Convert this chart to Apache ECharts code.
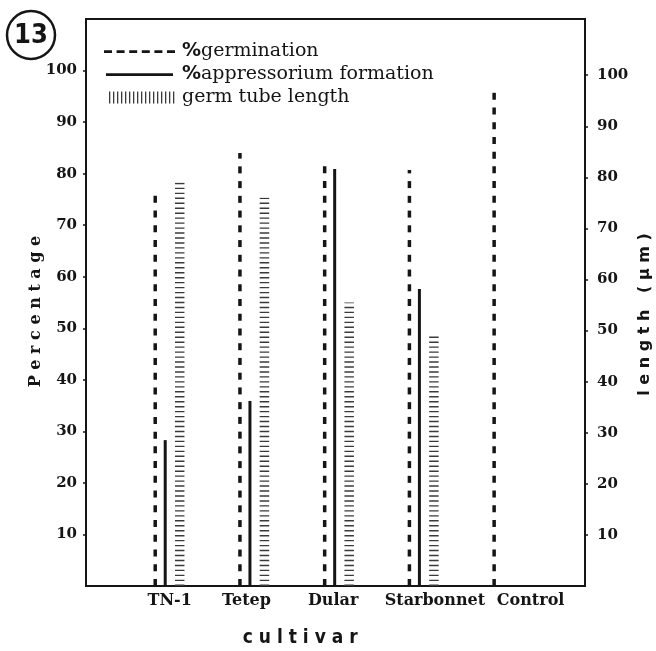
<!DOCTYPE html>
<html>
<head>
<meta charset="utf-8">
<script src="https://cdn.jsdelivr.net/npm/echarts@6/dist/echarts.min.js"></script>
<style>
html,body{margin:0;padding:0;background:#fff;}
#chart{width:656px;height:651px;}
</style>
</head>
<body>
<div id="chart"></div>
<script>
const categories = ['TN-1', 'Tetep', 'Dular', 'Starbonnet', 'Control'];
const germination = [76.6, 84.0, 82.8, 80.7, 95.8];
const appressorium = [28.3, 35.9, 80.9, 57.6, null];
const tubeLength = [79, 76, 55.5, 49, null];
const percentTicks = [10, 20, 30, 40, 50, 60, 70, 80, 90, 100];
const lengthTicks = [10, 20, 30, 40, 50, 60, 70, 80, 90, 100];
const seriesNames = ['%germination', '%appressorium formation', 'germ tube length'];

const INK = '#151515';
const tickFont = {color: INK, fontFamily: 'DejaVu Serif', fontWeight: 'bold', fontSize: 15};

// legend icon paths (73 x 14 box, tiny corner dots keep the box size)
const corners = 'M0,0h0.01v0.01h-0.01z M72.99,13.99h0.01v0.01h-0.01z ';
let dashPath = corners;
for (let i = 0; i < 6; i++) dashPath += 'M' + (i * 12.6) + ',5.8h8v2.6h-8z ';
const solidPath = corners + 'M2,5.8h67v2.6h-67z';
let hatchPath = corners;
for (let i = 0; i < 17; i++) hatchPath += 'M' + (5 + i * 4) + ',1h1.3v12h-1.3z ';

const labelShift = [0, -8, -6, 11, 22];
const xRich = {};
labelShift.forEach((s, i) => {
  xRich['c' + i] = {
    color: INK, fontFamily: 'DejaVu Serif', fontWeight: 'bold', fontSize: 16,
    padding: s >= 0 ? [0, 0, 0, 2 * s] : [0, -2 * s, 0, 0]
  };
});

const chart = echarts.init(document.getElementById('chart'), null, {renderer: 'canvas'});
chart.setOption({
  animation: false,
  backgroundColor: '#fff',
  graphic: [
    {type: 'circle', shape: {cx: 31, cy: 35, r: 24}, style: {fill: 'none', stroke: INK, lineWidth: 2.5}},
    {type: 'text', x: 31, y: 36, style: {text: '13', font: 'bold 27px "Liberation Sans Narrow", "DejaVu Sans Condensed", sans-serif', align: 'center', verticalAlign: 'middle', fill: INK}}
  ],
  legend: {
    orient: 'vertical', left: 104, top: 42, padding: 0, itemGap: 4,
    itemWidth: 73, itemHeight: 14, selectedMode: false,
    data: [
      {name: seriesNames[0], icon: 'path://' + dashPath},
      {name: seriesNames[1], icon: 'path://' + solidPath},
      {name: seriesNames[2], icon: 'path://' + hatchPath}
    ],
    formatter: function (name) {
      return name.charAt(0) === '%' ? '{p|%}{t|' + name.slice(1) + '}' : '{t|' + name + '}';
    },
    textStyle: {
      color: INK, fontFamily: 'DejaVu Serif', fontSize: 19,
      rich: {
        p: {color: INK, fontFamily: 'DejaVu Sans', fontWeight: 'bold', fontSize: 19},
        t: {color: INK, fontFamily: 'DejaVu Serif', fontSize: 19}
      }
    }
  },
  grid: [
    {left: 86, right: 71, top: 19, bottom: 65, outerBoundsMode: 'none', containLabel: false,
     show: true, borderColor: INK, borderWidth: 2, backgroundColor: 'transparent'},
    {left: 127.35, right: 105, top: 19, bottom: 65, outerBoundsMode: 'none', containLabel: false}
  ],
  xAxis: [
    {gridIndex: 0, type: 'value', min: 0, max: 1, show: false},
    {
      gridIndex: 1, type: 'category', data: categories, boundaryGap: true,
      axisLine: {show: false}, axisTick: {show: false}, splitLine: {show: false},
      axisLabel: {
        interval: 0, margin: 7,
        formatter: function (v, i) { return '{c' + i + '|' + v + '}'; },
        rich: xRich
      },
      name: 'c u l t i v a r', nameLocation: 'middle', nameGap: 43, nameMoveOverlap: false,
      nameTextStyle: {
        color: INK, fontFamily: '"DejaVu Sans Condensed", "Liberation Sans Narrow", sans-serif',
        fontWeight: 'bold', fontSize: 19, padding: [0, 78, 0, 0]
      }
    }
  ],
  yAxis: [
    {
      gridIndex: 0, type: 'value', position: 'left', min: 0, max: 110,
      splitLine: {show: false},
      axisLine: {show: true, lineStyle: {color: INK, width: 2}},
      axisTick: {show: true, length: 3, customValues: percentTicks, lineStyle: {color: INK, width: 1.5}},
      axisLabel: Object.assign({margin: 9, customValues: percentTicks}, tickFont),
      name: 'P e r c e n t a g e', nameLocation: 'middle', nameRotate: 90, nameGap: 42, nameMoveOverlap: false,
      nameTextStyle: {color: INK, fontFamily: 'DejaVu Serif', fontWeight: 'bold', fontSize: 16, padding: [0, 18, 0, 0]}
    },
    {
      gridIndex: 0, type: 'value', position: 'right', min: 0, max: 111,
      splitLine: {show: false},
      axisLine: {show: true, lineStyle: {color: INK, width: 2}},
      axisTick: {show: true, length: 3, customValues: lengthTicks, lineStyle: {color: INK, width: 1.5}},
      axisLabel: Object.assign({margin: 12, customValues: lengthTicks}, tickFont),
      name: 'l e n g t h   ( µ m )', nameLocation: 'middle', nameRotate: 90, nameGap: 52, nameMoveOverlap: false,
      nameTextStyle: {color: INK, fontFamily: 'DejaVu Sans', fontWeight: 'bold', fontSize: 16, padding: [0, 24, 0, 0]}
    },
    {gridIndex: 1, type: 'value', min: 0, max: 110, show: false, splitLine: {show: false}},
    {gridIndex: 1, type: 'value', min: 0, max: 111, show: false, splitLine: {show: false}}
  ],
  series: [
    {
      name: seriesNames[0], type: 'pictorialBar', xAxisIndex: 1, yAxisIndex: 2,
      data: germination, barWidth: 6, barGap: '0%',
      symbol: 'rect', symbolSize: [3.5, 7], symbolRepeat: true, symbolMargin: 4, symbolClip: true,
      symbolPosition: 'start', itemStyle: {color: INK}, z: 3
    },
    {
      name: seriesNames[1], type: 'pictorialBar', xAxisIndex: 1, yAxisIndex: 2,
      data: appressorium, barWidth: 14, barGap: '0%',
      symbol: 'rect', symbolSize: [3, '100%'], symbolPosition: 'start',
      itemStyle: {color: INK}, z: 3
    },
    {
      name: seriesNames[2], type: 'pictorialBar', xAxisIndex: 1, yAxisIndex: 3,
      data: tubeLength, barWidth: 15, barGap: '0%',
      symbol: 'rect', symbolSize: [9.5, 1.4], symbolRepeat: true, symbolMargin: 1.8, symbolClip: true,
      symbolPosition: 'start', itemStyle: {color: '#3a3a3a'}, z: 3
    }
  ]
});
</script>
</body>
</html>
